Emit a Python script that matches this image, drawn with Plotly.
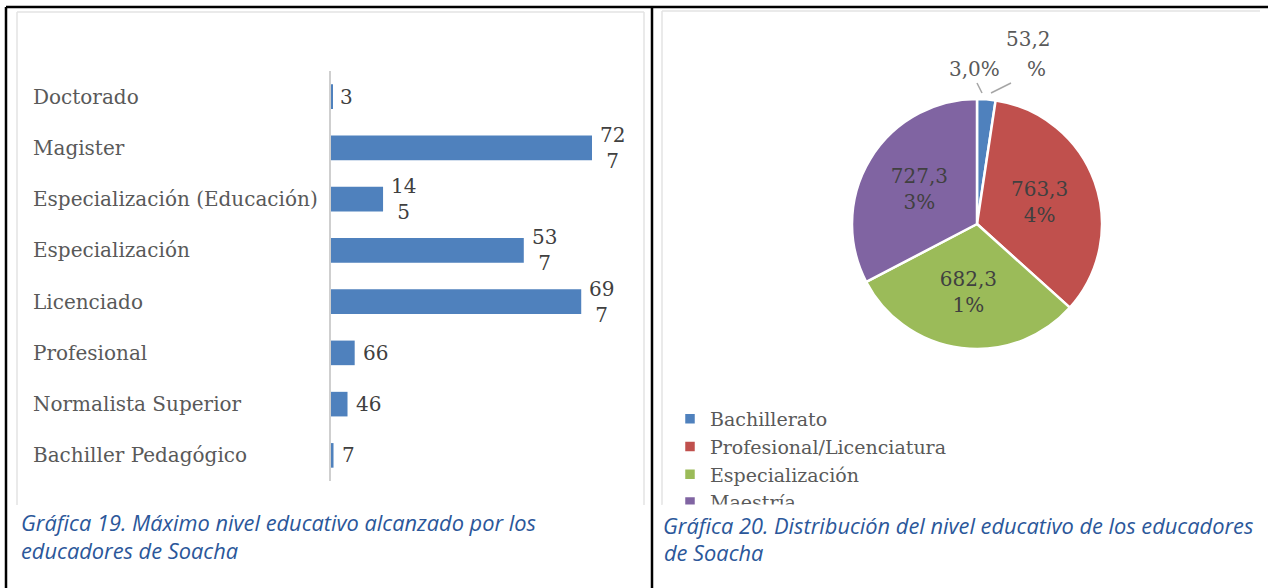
import plotly.graph_objects as go

W, H = 1268, 588


def px(x):
    return x / W


def py(y):
    return 1 - y / H


# ---------------- data ----------------
categories = [
    "Doctorado",
    "Magister",
    "Especialización (Educación)",
    "Especialización",
    "Licenciado",
    "Profesional",
    "Normalista Superior",
    "Bachiller Pedagógico",
]
counts = [3, 727, 145, 537, 697, 66, 46, 7]

pie_labels = ["Bachillerato", "Profesional/Licenciatura", "Especialización", "Maestría"]
pie_values = [53, 763, 682, 727]
pie_text = ["", "763,3<br>4%", "682,3<br>1%", "727,3<br>3%"]
pie_outside_text = ["3,0%", "53,2", "%"]
pie_colors = ["#4F81BD", "#C0504D", "#9BBB59", "#8064A2"]

caption_left = ["Gráfica 19. Máximo nivel educativo alcanzado por los", "educadores de Soacha"]
caption_right = ["Gráfica 20. Distribución del nivel educativo de los educadores", "de Soacha"]

# ---------------- styles ----------------
SERIF = "DejaVu Serif"
LABEL_GRAY = "#595959"
VALUE_GRAY = "#404040"
CAPTION_BLUE = "#2B579A"
CAPTION_FONT = dict(family="Open Sans", size=21.8, color=CAPTION_BLUE, style="italic")

fig = go.Figure()

fig.add_trace(
    go.Bar(
        x=counts,
        y=categories,
        orientation="h",
        marker=dict(color="#4F81BD", line=dict(width=0)),
        showlegend=False,
        hoverinfo="x+y",
        xaxis="x",
        yaxis="y",
    )
)

fig.add_trace(
    go.Pie(
        labels=pie_labels,
        values=pie_values,
        sort=False,
        direction="clockwise",
        rotation=0,
        marker=dict(colors=pie_colors, line=dict(color="white", width=2.5)),
        text=pie_text,
        textinfo="text",
        textposition="inside",
        insidetextorientation="horizontal",
        textfont=dict(family=SERIF, size=20, color=VALUE_GRAY),
        domain=dict(x=[px(852), px(1102)], y=[py(350), py(98)]),
        showlegend=True,
        hoverinfo="label+value+percent",
    )
)

annotations = []
# category labels (left aligned)
for cat in categories:
    annotations.append(
        dict(
            x=px(31), xref="paper", y=cat, yref="y",
            xanchor="left", yanchor="middle", text=cat, showarrow=False,
            font=dict(family=SERIF, size=20, color=LABEL_GRAY),
        )
    )
# value labels
for cat, v in zip(categories, counts):
    s = str(v)
    t = s if len(s) < 3 else s[:2] + "<br>" + s[2:]
    annotations.append(
        dict(
            x=v, xref="x", y=cat, yref="y",
            xanchor="left", yanchor="middle", xshift=6, align="center",
            text=t, showarrow=False,
            font=dict(family=SERIF, size=20, color=VALUE_GRAY),
        )
    )
# outside pie labels for the small slice
for t, (xx, yy) in zip(pie_outside_text, [(974, 69), (1028, 39), (1036, 69)]):
    annotations.append(
        dict(
            x=px(xx), xref="paper", y=py(yy), yref="paper",
            xanchor="center", yanchor="middle", text=t, showarrow=False,
            font=dict(family=SERIF, size=20, color=LABEL_GRAY),
        )
    )
# captions
annotations.append(dict(x=px(19), y=py(522), xref="paper", yref="paper", xanchor="left",
                        yanchor="middle", text=caption_left[0], showarrow=False, font=CAPTION_FONT))
annotations.append(dict(x=px(19), y=py(550), xref="paper", yref="paper", xanchor="left",
                        yanchor="middle", text=caption_left[1], showarrow=False, font=CAPTION_FONT))
annotations.append(dict(x=px(662), y=py(525), xref="paper", yref="paper", xanchor="left",
                        yanchor="middle", text=caption_right[0], showarrow=False, font=CAPTION_FONT,
                        bgcolor="white", width=603, height=40, align="left", borderpad=0))
annotations.append(dict(x=px(662), y=py(552), xref="paper", yref="paper", xanchor="left",
                        yanchor="middle", text=caption_right[1], showarrow=False, font=CAPTION_FONT))

shapes = []
BLACK = dict(color="black", width=2.5)
LIGHT = dict(color="#E3E3E3", width=1.5)
LEADER = dict(color="#A6A6A6", width=1.5)


def seg(x0, y0, x1, y1, line):
    shapes.append(dict(type="line", xref="paper", yref="paper",
                       x0=px(x0), y0=py(y0), x1=px(x1), y1=py(y1), line=line, layer="above"))


# table borders
seg(6, 7, W, 7, BLACK)
seg(6, 7, 6, H, BLACK)
seg(652, 7, 652, H, BLACK)
# light image edges
seg(17, 12, 644, 12, LIGHT)
seg(17, 12, 17, 505, LIGHT)
seg(644, 12, 644, 505, LIGHT)
seg(662, 11, 1260, 11, LIGHT)
seg(662, 11, 662, 505, LIGHT)
# leader lines for small slice
seg(977, 83, 982, 93, LEADER)
seg(991, 93, 1011, 83, LEADER)

fig.update_layout(
    width=W,
    height=H,
    margin=dict(l=0, r=0, t=0, b=0),
    paper_bgcolor="white",
    plot_bgcolor="white",
    bargap=0.52,
    xaxis=dict(domain=[px(331), px(640)], range=[0, 860.7], visible=False, fixedrange=True),
    yaxis=dict(
        domain=[py(481), py(71)],
        type="category",
        categoryorder="array",
        categoryarray=categories,
        range=[7.5, -0.5],
        showticklabels=False,
        ticks="",
        showgrid=False,
        zeroline=False,
        showline=True,
        linecolor="#CFCFCF",
        linewidth=1.5,
        anchor="x",
        fixedrange=True,
    ),
    legend=dict(
        x=px(670), y=py(400), xanchor="left", yanchor="top",
        font=dict(family=SERIF, size=19, color=LABEL_GRAY),
        bgcolor="rgba(0,0,0,0)", itemclick=False, itemdoubleclick=False,
    ),
    annotations=annotations,
    shapes=shapes,
)

fig.write_html(
    "out.html",
    config={"displayModeBar": False},
    post_script="document.body.style.margin='0px';document.body.style.overflow='hidden';",
)
